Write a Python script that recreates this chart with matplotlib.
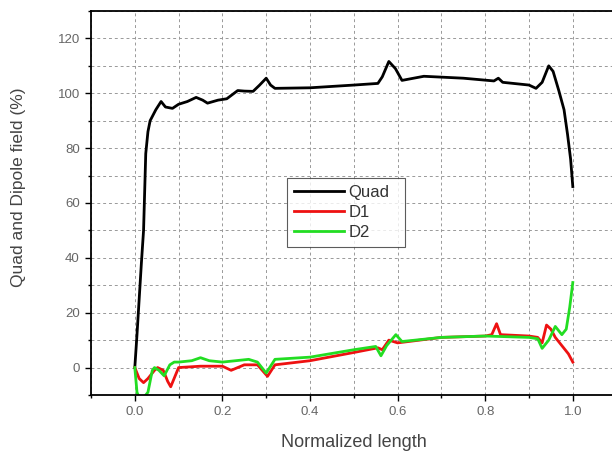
import numpy as np
import matplotlib.pyplot as plt
from matplotlib.ticker import MultipleLocator

plt.rcParams['font.family'] = ['Liberation Sans', 'DejaVu Sans']

# values
quad_x = [0.0, 0.005, 0.01, 0.015, 0.02, 0.025, 0.03, 0.035, 0.048, 0.06, 0.07, 0.086, 0.1,
          0.12, 0.14, 0.155, 0.166, 0.19, 0.21, 0.235, 0.25, 0.27, 0.285, 0.3, 0.31, 0.32,
          0.4, 0.5, 0.555, 0.565, 0.58, 0.595, 0.61, 0.66, 0.75, 0.82, 0.83, 0.84,
          0.9, 0.916, 0.93, 0.945, 0.955, 0.968, 0.98, 0.988, 0.995, 1.0]
quad_y = [0.0, 12, 25, 38, 50, 78, 86, 90, 94, 97, 95, 94.5, 96,
          97, 98.5, 97.5, 96.4, 97.5, 98, 101, 100.8, 100.7, 103, 105.5, 103, 101.8,
          102, 103, 103.6, 106, 111.6, 109, 104.7, 106.2, 105.5, 104.5, 105.5, 104,
          103, 101.8, 104, 110, 108, 101, 94, 85, 76, 66]

d1_x = [0.0, 0.01, 0.02, 0.03, 0.045, 0.052, 0.065, 0.075, 0.082, 0.1, 0.15, 0.2, 0.22, 0.25,
        0.28, 0.303, 0.32, 0.4, 0.5, 0.555, 0.565, 0.58, 0.6, 0.7, 0.8, 0.815, 0.826, 0.835,
        0.9, 0.92, 0.93, 0.94, 0.95, 0.96, 0.975, 0.99, 1.0]
d1_y = [0.0, -4, -5.5, -4, -1, 0, -1, -5, -7, 0, 0.5, 0.5, -1, 1,
        1, -3.2, 1, 2.5, 5.5, 7.2, 6.5, 10, 9, 11, 11.5, 12, 16, 12,
        11.5, 11, 9, 15.5, 14, 11, 8, 5, 2]

d2_x = [0.0, 0.005, 0.01, 0.02, 0.03, 0.04, 0.045, 0.055, 0.067, 0.08, 0.09, 0.1, 0.13, 0.15,
        0.17, 0.2, 0.23, 0.26, 0.28, 0.3, 0.32, 0.4, 0.5, 0.55, 0.562, 0.575, 0.596, 0.61,
        0.7, 0.8, 0.9, 0.92, 0.93, 0.945, 0.96, 0.975, 0.985, 0.993, 1.0]
d2_y = [0.0, -9, -11, -11, -9, -1, 0, -1, -3, 1, 2, 2, 2.5, 3.6,
        2.5, 2, 2.5, 3, 2, -2, 3, 3.8, 6.5, 7.7, 4.3, 8, 12, 9.5,
        11, 11.5, 11, 10.5, 7, 10, 15, 12, 14, 22, 31]

fig = plt.figure(figsize=(6.12, 4.62), dpi=100)
ax = fig.add_axes([91 / 612, 67 / 462, 525.6 / 612, 384 / 462])

ax.plot(quad_x, quad_y, color='black', lw=2, label='Quad')
ax.plot(d1_x, d1_y, color='#ee1111', lw=2, label='D1')
ax.plot(d2_x, d2_y, color='#22dd22', lw=2, label='D2')

ax.set_xlim(-0.1, 1.1)
ax.set_ylim(-10, 130)
ax.xaxis.set_minor_locator(MultipleLocator(0.1))
ax.yaxis.set_minor_locator(MultipleLocator(10))
ax.set_xticks([0.0, 0.2, 0.4, 0.6, 0.8, 1.0])
ax.set_xticklabels(['0.0', '0.2', '0.4', '0.6', '0.8', '1.0'])
ax.set_yticks([0, 20, 40, 60, 80, 100, 120])

ax.grid(True, which='both', color='#999999', ls=(0, (3, 3)), lw=0.7)
ax.tick_params(which='major', direction='out', length=4, width=1, labelsize=9.5,
               labelcolor='#666666', pad=4)
ax.tick_params(which='minor', direction='out', length=2, width=1)
for s in ax.spines.values():
    s.set_linewidth(1.3)

ax.set_xlabel('Normalized length', fontsize=13, color='#444444')
ax.xaxis.set_label_coords(0.5, -0.102)
ax.set_ylabel('Quad and Dipole field (%)', fontsize=12.5, color='#444444')
ax.yaxis.set_label_coords(-0.124, 0.54)

leg = ax.legend(loc='lower left', bbox_to_anchor=(0.373, 0.386, 0.225, 0.227), mode='expand',
                fontsize=12, frameon=True, fancybox=False, handlelength=3.0,
                borderaxespad=0, labelspacing=0.3, handletextpad=0.3)
leg.get_frame().set_edgecolor('#333333')
leg.get_frame().set_linewidth(0.8)
for t in leg.get_texts():
    t.set_color('#333333')

plt.savefig('out.png', dpi=100)
